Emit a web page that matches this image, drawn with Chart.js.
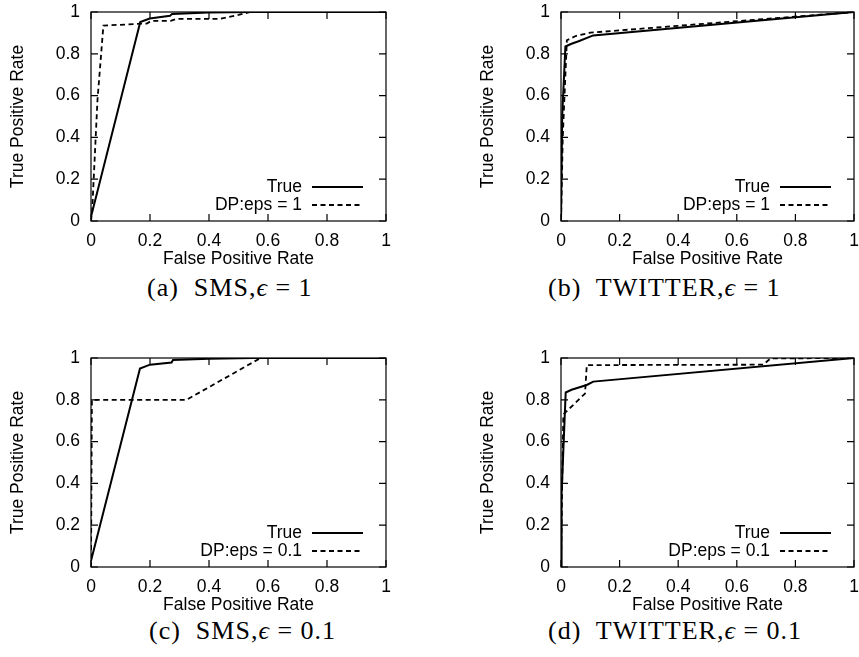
<!DOCTYPE html>
<html>
<head>
<meta charset="utf-8">
<script src="https://cdn.jsdelivr.net/npm/chart.js@4.4.1/dist/chart.umd.min.js"></script>
<style>
  body { margin: 0; background: #fff; }
  #page { position: relative; width: 859px; height: 657px; overflow: hidden; background: #fff; }
  .panel { position: absolute; }
  .cap { position: absolute; font-family: "Liberation Serif", serif; font-size: 26px; line-height: 1; color: #000;
         white-space: pre; letter-spacing: 1px; }
</style>
</head>
<body>
<div id="page">
  <canvas id="chartA" class="panel" width="430" height="270" style="left:0;top:0"></canvas>
  <canvas id="chartB" class="panel" width="389" height="270" style="left:470px;top:0"></canvas>
  <canvas id="chartC" class="panel" width="430" height="270" style="left:0;top:346px"></canvas>
  <canvas id="chartD" class="panel" width="389" height="270" style="left:470px;top:346px"></canvas>
  <div class="cap" style="left:147px;top:275px">(a)  SMS,<i>ϵ</i> = 1</div>
  <div class="cap" style="left:548px;top:275px">(b)  TWITTER,<i>ϵ</i> = 1</div>
  <div class="cap" style="left:149px;top:618px">(c)  SMS,<i>ϵ</i> = 0.1</div>
  <div class="cap" style="left:548px;top:618px">(d)  TWITTER,<i>ϵ</i> = 0.1</div>
</div>
<script>
// ===== ROC curves =====
const tickValues = [0, 0.2, 0.4, 0.6, 0.8, 1];
const tickLabels = ['0', '0.2', '0.4', '0.6', '0.8', '1'];

// (a) SMS, eps = 1
const smsTrueFpr   = [0, 0.167, 0.199, 0.268, 0.275, 0.398, 0.55, 1];
const smsTrueTpr   = [0.02, 0.952, 0.969, 0.982, 0.991, 0.998, 1, 1];
const smsDp1Fpr    = [0, 0.004, 0.022, 0.042, 0.189, 0.205, 0.27, 0.29, 0.435, 0.5, 0.54, 1];
const smsDp1Tpr    = [0, 0.05, 0.58, 0.935, 0.945, 0.958, 0.958, 0.967, 0.967, 0.986, 1, 1];

// (b) TWITTER, eps = 1
const twTrueFpr    = [0, 0.004, 0.015, 0.036, 0.06, 0.11, 1];
const twTrueTpr    = [0, 0.5, 0.835, 0.848, 0.86, 0.888, 1];
const twDp1Fpr     = [0, 0.006, 0.02, 0.05, 0.1, 1];
const twDp1Tpr     = [0, 0.4, 0.865, 0.885, 0.901, 1];

// (c) SMS, eps = 0.1
const smsTrue2Fpr  = [0, 0.166, 0.2, 0.273, 0.278, 0.4, 0.55, 1];
const smsTrue2Tpr  = [0.03, 0.95, 0.968, 0.978, 0.99, 0.997, 1, 1];
const smsDp01Fpr   = [0, 0.003, 0.324, 0.575, 1];
const smsDp01Tpr   = [0, 0.8, 0.8, 1, 1];

// (d) TWITTER, eps = 0.1
const twTrue2Fpr   = [0, 0.002, 0.016, 0.036, 0.088, 0.11, 1];
const twTrue2Tpr   = [0, 0.35, 0.835, 0.848, 0.871, 0.887, 1];
const twDp01Fpr    = [0, 0.004, 0.008, 0.082, 0.088, 0.69, 0.715, 1];
const twDp01Tpr    = [0, 0.4, 0.73, 0.83, 0.966, 0.968, 0.998, 1];

const FONT = '"Liberation Sans", Arial, Helvetica, sans-serif';
const FONT_SIZE = 17.5;
const TICK = 7;

Chart.defaults.color = '#000';
Chart.defaults.font.family = FONT;
Chart.defaults.font.size = FONT_SIZE;

function pts(xs, ys) {
  return xs.map((x, i) => ({ x: x, y: ys[i] }));
}

// gnuplot look: closed frame, inward ticks on all sides, key at bottom right
const gnuplotFrame = {
  id: 'gnuplotFrame',
  afterDatasetsDraw(chart) {
    const { ctx, chartArea: a, scales: { x, y } } = chart;
    ctx.save();
    ctx.strokeStyle = '#000';
    ctx.lineWidth = 1.2;
    ctx.setLineDash([]);
    ctx.strokeRect(a.left, a.top, a.width, a.height);
    ctx.beginPath();
    tickValues.forEach(v => {
      const px = x.getPixelForValue(v), py = y.getPixelForValue(v);
      ctx.moveTo(px, a.bottom); ctx.lineTo(px, a.bottom - TICK);
      ctx.moveTo(px, a.top);    ctx.lineTo(px, a.top + TICK);
      ctx.moveTo(a.left, py);   ctx.lineTo(a.left + TICK, py);
      ctx.moveTo(a.right, py);  ctx.lineTo(a.right - TICK, py);
    });
    ctx.stroke();

    // key
    ctx.font = FONT_SIZE + 'px ' + FONT;
    ctx.fillStyle = '#000';
    ctx.textAlign = 'right';
    ctx.textBaseline = 'middle';
    chart.data.datasets.forEach((ds, i) => {
      const ry = a.bottom - 34 + 18 * i;
      ctx.fillText(ds.label, a.right - 84, ry);
      ctx.lineWidth = ds.borderWidth;
      ctx.setLineDash(ds.borderDash || []);
      ctx.beginPath();
      ctx.moveTo(a.right - 74, ry);
      ctx.lineTo(a.right - 23, ry);
      ctx.stroke();
    });
    ctx.restore();
  }
};

function buildRoc(canvasId, trueX, trueY, dpX, dpY, dpLabel, padRight) {
  const ctx = document.getElementById(canvasId).getContext('2d');
  return new Chart(ctx, {
    type: 'scatter',
    data: {
      datasets: [
        {
          label: 'True',
          data: pts(trueX, trueY),
          showLine: true,
          borderColor: '#000',
          borderWidth: 2,
          pointRadius: 0,
          tension: 0
        },
        {
          label: dpLabel,
          data: pts(dpX, dpY),
          showLine: true,
          borderColor: '#000',
          borderWidth: 1.8,
          borderDash: [5, 3.5],
          pointRadius: 0,
          tension: 0
        }
      ]
    },
    options: {
      responsive: false,
      animation: false,
      layout: { padding: { top: 12, right: padRight, left: 0, bottom: 0 } },
      plugins: { legend: { display: false }, tooltip: { enabled: false } },
      scales: {
        x: {
          type: 'linear', min: 0, max: 1,
          afterBuildTicks: s => { s.ticks = tickValues.map(v => ({ value: v })); },
          afterFit: s => { s.height = 49; s.paddingLeft = 0; s.paddingRight = 0; },
          grid: { display: false, drawTicks: false },
          border: { display: false },
          ticks: { padding: 10, autoSkip: false, maxRotation: 0, callback: (v, i) => tickLabels[i] },
          title: { display: true, text: 'False Positive Rate', padding: { top: 0, bottom: 0 } }
        },
        y: {
          type: 'linear', min: 0, max: 1,
          afterBuildTicks: s => { s.ticks = tickValues.map(v => ({ value: v })); },
          afterFit: s => { s.width = 91; s.paddingTop = 0; s.paddingBottom = 0; },
          grid: { display: false, drawTicks: false },
          border: { display: false },
          ticks: { padding: 11, autoSkip: false, callback: (v, i) => tickLabels[i] },
          title: { display: true, text: 'True Positive Rate', padding: { top: 7.5, bottom: 0 } }
        }
      }
    },
    plugins: [gnuplotFrame]
  });
}

buildRoc('chartA', smsTrueFpr, smsTrueTpr, smsDp1Fpr, smsDp1Tpr, 'DP:eps = 1', 44);
buildRoc('chartB', twTrueFpr, twTrueTpr, twDp1Fpr, twDp1Tpr, 'DP:eps = 1', 5);
buildRoc('chartC', smsTrue2Fpr, smsTrue2Tpr, smsDp01Fpr, smsDp01Tpr, 'DP:eps = 0.1', 44);
buildRoc('chartD', twTrue2Fpr, twTrue2Tpr, twDp01Fpr, twDp01Tpr, 'DP:eps = 0.1', 5);
</script>
</body>
</html>
